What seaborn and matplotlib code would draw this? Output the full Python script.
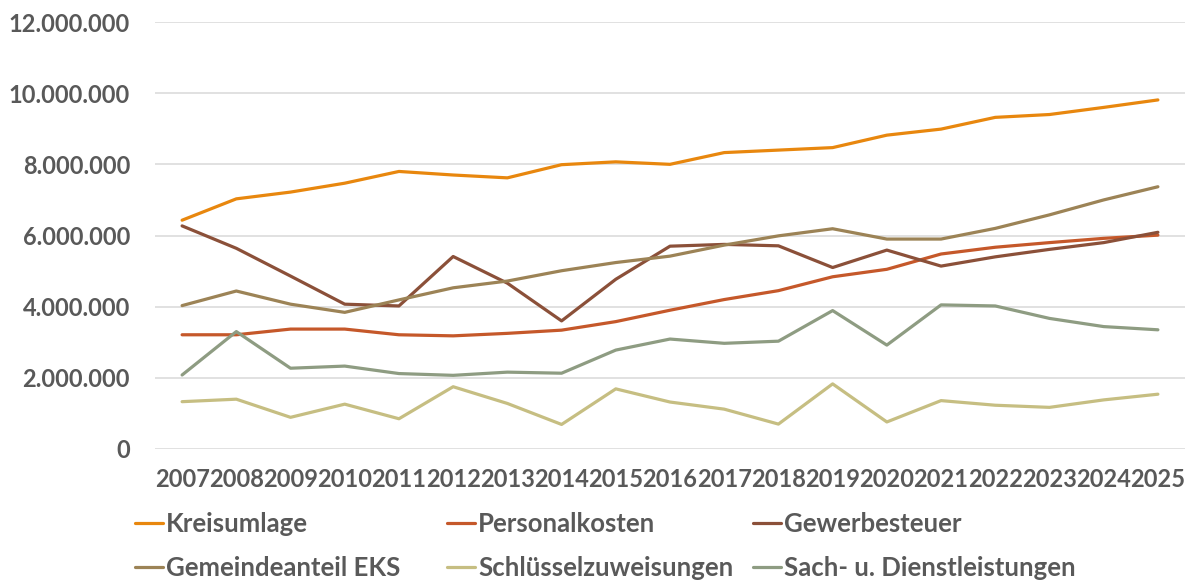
import matplotlib
matplotlib.use("Agg")
import matplotlib.pyplot as plt
from matplotlib.ticker import FuncFormatter, MultipleLocator
from matplotlib.lines import Line2D
import seaborn as sns
import pandas as pd

# Data
years = list(range(2007, 2026))
kreisumlage = [6.43e6, 7.03e6, 7.22e6, 7.47e6, 7.80e6, 7.70e6, 7.62e6, 7.99e6, 8.07e6, 8.00e6,
               8.33e6, 8.40e6, 8.47e6, 8.82e6, 8.99e6, 9.32e6, 9.40e6, 9.60e6, 9.81e6]
personalkosten = [3.21e6, 3.21e6, 3.37e6, 3.37e6, 3.21e6, 3.18e6, 3.25e6, 3.34e6, 3.58e6, 3.90e6,
                  4.20e6, 4.45e6, 4.84e6, 5.05e6, 5.48e6, 5.67e6, 5.80e6, 5.92e6, 6.01e6]
gewerbesteuer = [6.27e6, 5.64e6, 4.86e6, 4.07e6, 4.02e6, 5.41e6, 4.66e6, 3.60e6, 4.77e6, 5.70e6,
                 5.75e6, 5.71e6, 5.10e6, 5.59e6, 5.14e6, 5.40e6, 5.61e6, 5.80e6, 6.09e6]
gemeindeanteil = [4.03e6, 4.44e6, 4.07e6, 3.84e6, 4.19e6, 4.53e6, 4.72e6, 5.01e6, 5.24e6, 5.42e6,
                  5.73e6, 5.99e6, 6.19e6, 5.90e6, 5.90e6, 6.20e6, 6.58e6, 7.00e6, 7.37e6]
schluessel = [1.33e6, 1.40e6, 0.89e6, 1.26e6, 0.85e6, 1.75e6, 1.28e6, 0.69e6, 1.69e6, 1.32e6,
              1.12e6, 0.70e6, 1.83e6, 0.76e6, 1.36e6, 1.23e6, 1.17e6, 1.38e6, 1.54e6]
sach = [2.08e6, 3.30e6, 2.27e6, 2.33e6, 2.12e6, 2.07e6, 2.16e6, 2.13e6, 2.78e6, 3.09e6,
        2.97e6, 3.03e6, 3.89e6, 2.92e6, 4.05e6, 4.02e6, 3.67e6, 3.44e6, 3.35e6]

series = {
    "Kreisumlage": kreisumlage,
    "Personalkosten": personalkosten,
    "Gewerbesteuer": gewerbesteuer,
    "Gemeindeanteil EKS": gemeindeanteil,
    "Schlüsselzuweisungen": schluessel,
    "Sach- u. Dienstleistungen": sach,
}
colors = {
    "Kreisumlage": "#E8870E",
    "Personalkosten": "#C5582A",
    "Gewerbesteuer": "#8B5039",
    "Gemeindeanteil EKS": "#9C8356",
    "Schlüsselzuweisungen": "#C6BE82",
    "Sach- u. Dienstleistungen": "#8E9C82",
}

df = pd.DataFrame({"Jahr": years, **series}).melt(id_vars="Jahr", var_name="Serie", value_name="Wert")

sns.set_style("white")
plt.rcParams["font.family"] = ["Lato", "DejaVu Sans"]
text_color = "#595959"

fig = plt.figure(figsize=(11.96, 5.84), dpi=100)
ax = fig.add_axes([155 / 1196, 1 - 449 / 584, (1185 - 155) / 1196, (449 - 22) / 584])

sns.lineplot(data=df, x="Jahr", y="Wert", hue="Serie", palette=colors, linewidth=2.3,
             ax=ax, legend=False)

ax.set_xlim(2006.5, 2025.5)
ax.set_ylim(0, 12e6)
ax.yaxis.set_major_locator(MultipleLocator(2e6))
ax.yaxis.set_major_formatter(FuncFormatter(lambda v, p: f"{v:,.0f}".replace(",", ".")))
ax.set_xticks(years)
ax.set_xticklabels([str(y) for y in years])
ax.grid(axis="y", color="#D9D9D9", linewidth=1.1)
ax.set_axisbelow(True)
for s in ["top", "right", "left", "bottom"]:
    ax.spines[s].set_visible(False)
ax.tick_params(axis="both", length=0, labelsize=17, labelcolor=text_color)
ax.tick_params(axis="y", pad=18)
ax.tick_params(axis="x", pad=14)
for lbl in ax.get_xticklabels() + ax.get_yticklabels():
    lbl.set_fontweight("bold")
ax.set_xlabel("")
ax.set_ylabel("")

# legend: three single-column legends placed like Excel's equal-width columns
legend_cols = [
    (135, ["Kreisumlage", "Gemeindeanteil EKS"]),
    (447, ["Personalkosten", "Schlüsselzuweisungen"]),
    (753, ["Gewerbesteuer", "Sach- u. Dienstleistungen"]),
]
for x0, names in legend_cols:
    handles = [Line2D([0], [0], color=colors[n], linewidth=2.3) for n in names]
    leg = fig.legend(handles, names, ncol=1, loc="upper left",
                     bbox_to_anchor=(x0 / 1196, 1 - 512 / 584),
                     frameon=False, borderpad=0, borderaxespad=0,
                     handlelength=1.1, handletextpad=0.12, labelspacing=0.76,
                     prop={"size": 18.5, "weight": "bold"})
    for t in leg.get_texts():
        t.set_color(text_color)

fig.savefig("out.png", dpi=100)
